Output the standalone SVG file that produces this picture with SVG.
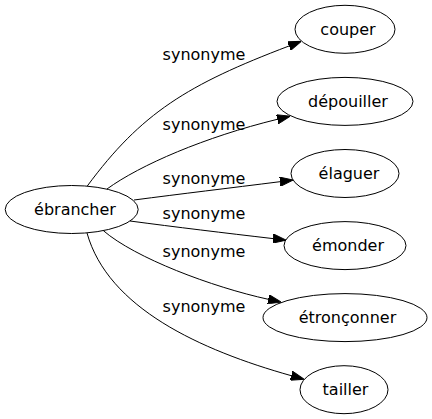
<svg xmlns="http://www.w3.org/2000/svg" width="432" height="419" viewBox="0 0 432 419">
<defs>
<style>
.node ellipse{fill:none;stroke:#000;stroke-width:1}
.node text{font-family:"DejaVu Sans",sans-serif;font-size:16px;fill:#000;text-anchor:middle}
.edges path{fill:none;stroke:#000;stroke-width:1}
.edges text{font-family:"DejaVu Sans",sans-serif;font-size:16px;fill:#000;text-anchor:middle}
</style>
<marker id="ah" viewBox="0 0 10 7" refX="0" refY="3.5" markerWidth="13.3" markerHeight="9.3" markerUnits="userSpaceOnUse" orient="auto">
<path d="M0,0 L10,3.5 L0,7 z" fill="#000" stroke="#000" stroke-width="0.7"/>
</marker>
</defs>
<rect width="432" height="419" fill="#fff"/>
<g id="connectors" class="edges">
<path d="M87.3,186 C141.3,113 187.4,84.6 289,46" marker-end="url(#ah)"/>
<text x="204" y="60">synonyme</text>
<path d="M107,189 C140,165 205,137 277.3,119.3" marker-end="url(#ah)"/>
<text x="204" y="130">synonyme</text>
<path d="M134,200 C180,194 230,188 280,181.7" marker-end="url(#ah)"/>
<text x="204" y="183.5">synonyme</text>
<path d="M130,221 C175,227 225,233 273,238.6" marker-end="url(#ah)"/>
<text x="204" y="219">synonyme</text>
<path d="M103.3,230.6 C135,258 212,287 268.3,299.3" marker-end="url(#ah)"/>
<text x="204" y="256.5">synonyme</text>
<path d="M87,233 C108,308 200,350 291.3,375.7" marker-end="url(#ah)"/>
<text x="204" y="311.5">synonyme</text>
</g>
<g id="node-ebrancher" class="node">
<ellipse cx="71.7" cy="209.5" rx="66.5" ry="24"/>
<text x="75" y="215">ébrancher</text>
</g>
<g id="node-couper" class="node">
<ellipse cx="345" cy="29.3" rx="50" ry="24"/>
<text x="348" y="35">couper</text>
</g>
<g id="node-depouiller" class="node">
<ellipse cx="345" cy="101.4" rx="68" ry="24"/>
<text x="348" y="107">dépouiller</text>
</g>
<g id="node-elaguer" class="node">
<ellipse cx="345" cy="173.5" rx="54" ry="24"/>
<text x="349" y="179">élaguer</text>
</g>
<g id="node-emonder" class="node">
<ellipse cx="345" cy="245.6" rx="61" ry="24"/>
<text x="348" y="251">émonder</text>
</g>
<g id="node-etronconner" class="node">
<ellipse cx="345" cy="317.6" rx="82" ry="24"/>
<text x="347.5" y="323">étronçonner</text>
</g>
<g id="node-tailler" class="node">
<ellipse cx="344" cy="389.7" rx="44" ry="24"/>
<text x="345.5" y="395">tailler</text>
</g>
</svg>
